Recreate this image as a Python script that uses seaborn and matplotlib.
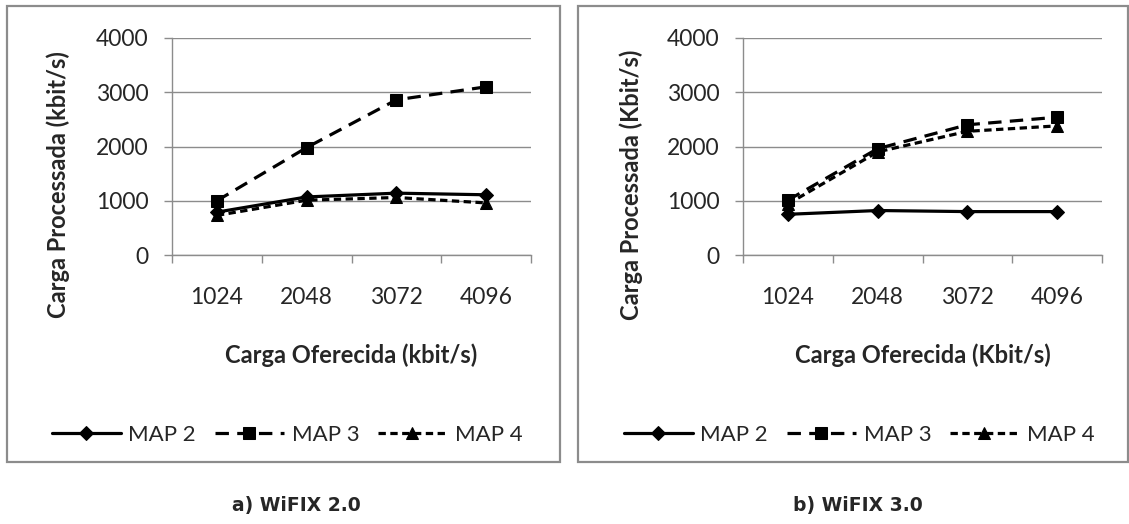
import matplotlib
matplotlib.use("Agg")
import matplotlib.pyplot as plt
from matplotlib.patches import Rectangle
import seaborn as sns
import pandas as pd

# Offered load categories (kbit/s)
cargas = ["1024", "2048", "3072", "4096"]
series = ["MAP 2", "MAP 3", "MAP 4"]

# WiFIX 2.0 processed load (kbit/s)
wifix2_map2 = [790, 1070, 1140, 1110]
wifix2_map3 = [1000, 1980, 2860, 3100]
wifix2_map4 = [730, 1010, 1060, 960]

# WiFIX 3.0 processed load (Kbit/s)
wifix3_map2 = [750, 820, 800, 800]
wifix3_map3 = [1010, 1960, 2400, 2540]
wifix3_map4 = [940, 1900, 2280, 2380]

yticks = [0, 1000, 2000, 3000, 4000]

sns.set_theme(style="white")
plt.rcParams["font.family"] = ["Lato", "DejaVu Sans"]

W, H = 1129, 524
fig = plt.figure(figsize=(W / 100, H / 100), dpi=100)
fig.patch.set_facecolor("white")

GRAY = "#8c8c8c"


def long_frame(vals):
    rows = []
    for name, ys in zip(series, vals):
        for i, y in enumerate(ys):
            rows.append({"pos": i, "carga": cargas[i], "valor": y, "serie": name})
    return pd.DataFrame(rows)


def panel_box(x0, y0, x1, y1):
    fig.patches.append(Rectangle((x0 / W, 1 - y1 / H), (x1 - x0) / W, (y1 - y0) / H,
                                 transform=fig.transFigure, fill=False,
                                 edgecolor=GRAY, linewidth=1.6))


def draw_panel(left_px, vals, ylabel, ylabel_x, xlabel, legend_cx, caption, caption_cx):
    ax = fig.add_axes([left_px / W, (H - 255) / H, 359 / W, 217 / H])
    df = long_frame(vals)
    sns.lineplot(data=df, x="pos", y="valor", hue="serie", style="serie",
                 palette={s: "black" for s in series},
                 markers={"MAP 2": "D", "MAP 3": "s", "MAP 4": "^"},
                 dashes={"MAP 2": "", "MAP 3": (4.2, 2.6), "MAP 4": (2.3, 1.4)},
                 linewidth=2.3, markersize=8.5, markeredgecolor="black",
                 legend=False, ax=ax, zorder=3)
    for ln in ax.lines:
        if ln.get_marker() == "D":
            ln.set_markersize(7.5)

    ax.set_xlim(-0.5, 3.5)
    ax.set_ylim(0, 4000)
    ax.set_yticks(yticks)
    ax.set_yticklabels([str(v) for v in yticks])
    ax.set_xticks([-0.5, 0.5, 1.5, 2.5, 3.5])
    ax.set_xticklabels([])
    ax.set_xticks(range(len(cargas)), minor=True)
    ax.set_xticklabels(cargas, minor=True)
    ax.tick_params(axis="x", which="major", direction="out", length=6, width=1,
                   color=GRAY, bottom=True)
    ax.tick_params(axis="x", which="minor", length=0, pad=23, labelsize=16.5)
    ax.tick_params(axis="y", direction="out", length=6, width=1, color=GRAY,
                   left=True, pad=11, labelsize=16.5)
    ax.grid(axis="y", color=GRAY, linewidth=1)
    ax.set_axisbelow(True)
    for side in ("top", "right"):
        ax.spines[side].set_visible(False)
    for side in ("left", "bottom"):
        ax.spines[side].set_color(GRAY)
        ax.spines[side].set_linewidth(1)
    ax.set_facecolor("white")

    ax.set_ylabel(ylabel, fontsize=17, fontweight="bold", va="center")
    ax.yaxis.set_label_coords((ylabel_x - left_px) / 359, (255 - 185) / 217)
    ax.set_xlabel(xlabel, fontsize=17, fontweight="bold", va="center")
    ax.xaxis.set_label_coords(0.5, (255 - 355) / 217)

    handles = ax.lines[:3]
    ax.legend(handles=handles, labels=series, ncol=3, frameon=False,
              loc="center", bbox_to_anchor=(legend_cx / W, 1 - 435 / H),
              bbox_transform=fig.transFigure, fontsize=16,
              handlelength=3.1, handletextpad=0.35, columnspacing=0.85)
    fig.text(caption_cx / W, 1 - 506 / H, caption, ha="center", va="center",
             fontsize=13.5, fontweight="bold", family="DejaVu Sans")
    return ax


panel_box(7, 6, 560, 462)
panel_box(578, 6, 1128, 462)

draw_panel(172, [wifix2_map2, wifix2_map3, wifix2_map4],
           "Carga Processada (kbit/s)", 58, "Carga Oferecida (kbit/s)",
           287, "a) WiFIX 2.0", 296)
draw_panel(743, [wifix3_map2, wifix3_map3, wifix3_map4],
           "Carga Processada (Kbit/s)", 631, "Carga Oferecida (Kbit/s)",
           859, "b) WiFIX 3.0", 858)

fig.savefig("out.png", dpi=100, facecolor="white")
